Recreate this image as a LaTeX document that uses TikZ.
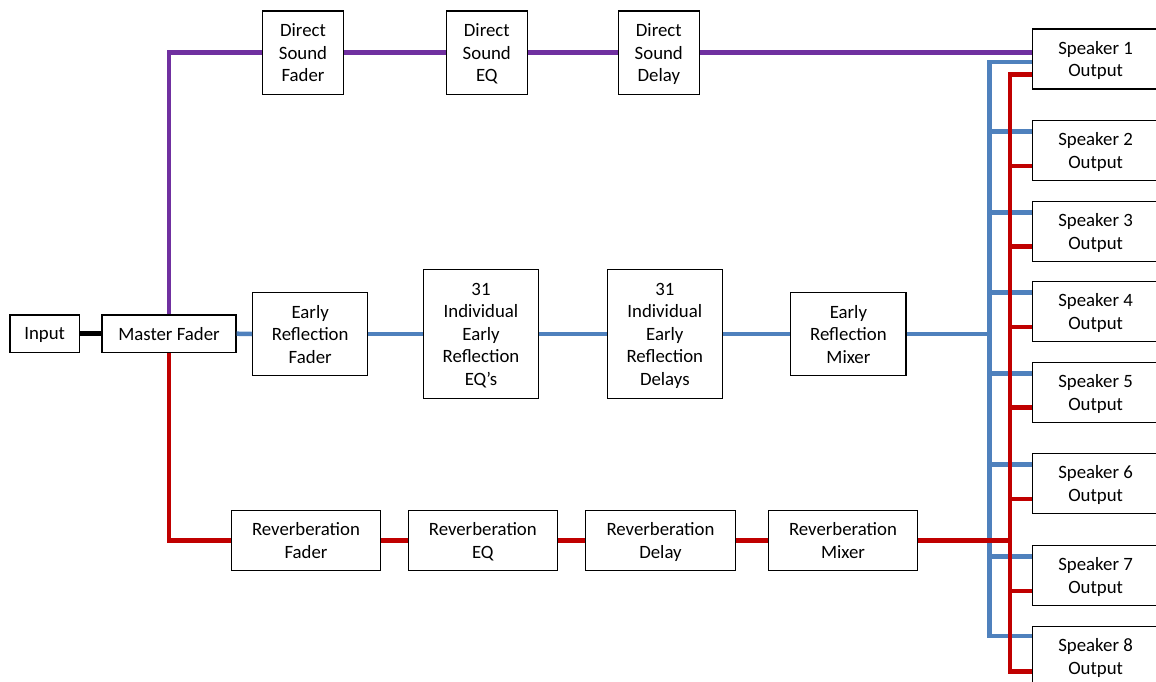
\documentclass[tikz,border=0pt]{standalone}
\usepackage{fontspec}
\setmainfont{Carlito}
\usetikzlibrary{calc}
\definecolor{dpurple}{HTML}{7030A0}
\definecolor{dblue}{HTML}{4F81BD}
\definecolor{dred}{HTML}{C00000}
\begin{document}
\begin{tikzpicture}[x=1pt,y=-1pt,
  box/.style={draw=black, line width=1.2pt, fill=white, align=center, inner sep=0pt,
    font=\fontsize{18.8}{22.5}\selectfont, text depth=0pt},
  spk/.style={box, minimum width=126pt, minimum height=60pt, anchor=north west},
  wire/.style={line width=4.5pt},
  pw/.style={wire, draw=dpurple},
  bw/.style={wire, draw=dblue},
  rw/.style={wire, draw=dred},
  kw/.style={line width=5pt, draw=black}]
\useasboundingbox (0,0) rectangle (1156,681);
% main chain
\node[box, minimum width=69.3pt, minimum height=37.3pt] (in) at (44.7,333.7) {Input};
\node[box, minimum width=134pt, minimum height=37.3pt] (mf) at (169,333.7) {Master Fader};
% direct sound
\node[box, minimum width=80.6pt, minimum height=83.3pt] (dsf) at (303,52.7) {Direct\\Sound\\Fader};
\node[box, minimum width=81pt, minimum height=83.3pt] (dseq) at (486.8,52.7) {Direct\\Sound\\EQ};
\node[box, minimum width=81pt, minimum height=83.3pt] (dsd) at (658.8,52.7) {Direct\\Sound\\Delay};
% early reflections
\node[box, minimum width=115pt, minimum height=83.4pt] (erf) at (310.2,334) {Early\\Reflection\\Fader};
\node[box, minimum width=114.6pt, minimum height=128.6pt] (ereq) at (481,334) {31\\Individual\\Early\\Reflection\\EQ’s};
\node[box, minimum width=115pt, minimum height=128.6pt] (erd) at (664.8,334) {31\\Individual\\Early\\Reflection\\Delays};
\node[box, minimum width=115.3pt, minimum height=83.4pt] (erm) at (848.4,334) {Early\\Reflection\\Mixer};
% reverberation
\node[box, minimum width=149.4pt, minimum height=60pt] (rf) at (306,540.7) {Reverberation\\Fader};
\node[box, minimum width=149pt, minimum height=60pt] (req) at (482.8,540.7) {Reverberation\\EQ};
\node[box, minimum width=149.6pt, minimum height=60pt] (rd) at (660.5,540.7) {Reverberation\\Delay};
\node[box, minimum width=149.4pt, minimum height=60pt] (rm) at (843,540.7) {Reverberation\\Mixer};
% speakers
\node[spk] (s1) at (1032,28.3) {Speaker 1\\Output};
\node[spk] (s2) at (1032,120) {Speaker 2\\Output};
\node[spk] (s3) at (1032,200.7) {Speaker 3\\Output};
\node[spk] (s4) at (1032,281) {Speaker 4\\Output};
\node[spk] (s5) at (1032,361.7) {Speaker 5\\Output};
\node[spk] (s6) at (1032,453) {Speaker 6\\Output};
\node[spk] (s7) at (1032,545) {Speaker 7\\Output};
\node[spk] (s8) at (1032,625.7) {Speaker 8\\Output};
% bus coordinates
\coordinate (bbot) at (989.3,636);
\coordinate (b1) at (1032,62);
\coordinate (rbot) at (1010,671.7);
\coordinate (r1) at (1032,74.7);
% black
\draw[kw] (in.east) -- (mf.west);
% purple
\draw[pw] (mf.north) |- (dsf.west);
\draw[pw] (dsf.east) -- (dseq.west);
\draw[pw] (dseq.east) -- (dsd.west);
\draw[pw] (dsd.east) -- (dsd.east -| s1.west);
% blue
\draw[bw] (mf.east) -- (erf.west);
\draw[bw] (erf.east) -- (ereq.west);
\draw[bw] (ereq.east) -- (erd.west);
\draw[bw] (erd.east) -- (erm.west);
\draw[bw] (erm.east) -- (erm.east -| bbot);
\draw[bw] (b1) -| (bbot) -- (bbot -| s8.west);
\foreach \s in {s2,s3,s4,s5,s6,s7}
  \draw[bw] ($(\s.north west)+(0,11.7)$) -- ++(-42.7,0);
% red
\draw[rw] (mf.south) |- (rf.west);
\draw[rw] (rf.east) -- (req.west);
\draw[rw] (req.east) -- (rd.west);
\draw[rw] (rd.east) -- (rm.west);
\draw[rw] (rm.east) -- (rm.east -| rbot);
\draw[rw] (r1) -| (rbot) -- (rbot -| s8.west);
\foreach \s in {s2,s3,s4,s5,s6,s7}
  \draw[rw] ($(\s.north west)+(0,46)$) -- ++(-22,0);
\end{tikzpicture}
\end{document}
